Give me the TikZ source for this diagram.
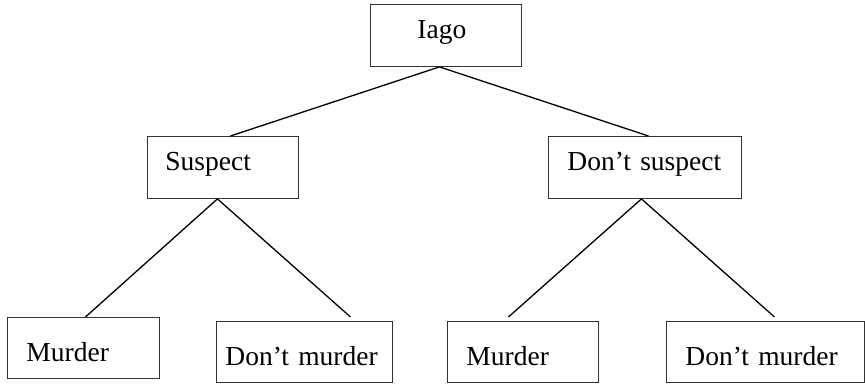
\documentclass[tikz,border=0pt]{standalone}
\usepackage{fontspec}
\setmainfont{Liberation Serif}
\tikzset{
  tbox/.style 2 args={draw=black!80, line width=0.9pt, anchor=north west, inner sep=0pt,
    text width=#1, align=left, font=\fontsize{27.5}{33}\selectfont,
    execute at begin node={\hspace*{#2}}},
  hi/.style={text height=34pt, text depth=28pt},
  lo/.style={text height=44pt, text depth=17pt},
  branch/.style={line width=1.3pt}
}
\begin{document}
\begin{tikzpicture}[x=1pt,y=-1pt]
\useasboundingbox (0,0) rectangle (865,385);
\node[tbox={151pt}{47pt},hi] (iago) at (370,4) {Iago};
\node[tbox={151pt}{18pt},hi] (suspect) at (147,136) {Suspect};
\node[tbox={193pt}{19pt},hi] (dsuspect) at (548,136) {Don’t suspect};
\node[tbox={152pt}{19pt},lo] (murderL) at (7,317) {Murder};
\node[tbox={176pt}{9pt},lo] (dmurderL) at (216,321) {Don’t murder};
\node[tbox={151pt}{19pt},lo] (murderR) at (447,321) {Murder};
\node[tbox={198pt}{19pt},lo] (dmurderR) at (666,321) {Don’t murder};
\draw[branch] ([xshift=-6.5pt]iago.south) -- ([xshift=7.5pt]suspect.north);
\draw[branch] ([xshift=-6.5pt]iago.south) -- ([xshift=3.5pt]dsuspect.north);
\draw[branch] ([xshift=-5.5pt]suspect.south) -- ([xshift=2pt]murderL.north);
\draw[branch] ([xshift=-5.5pt]suspect.south) -- ([xshift=46pt,yshift=4pt]dmurderL.north);
\draw[branch] ([xshift=-3.5pt]dsuspect.south) -- ([xshift=-14.5pt,yshift=4pt]murderR.north);
\draw[branch] ([xshift=-3.5pt]dsuspect.south) -- ([xshift=9pt,yshift=4pt]dmurderR.north);
\end{tikzpicture}
\end{document}
